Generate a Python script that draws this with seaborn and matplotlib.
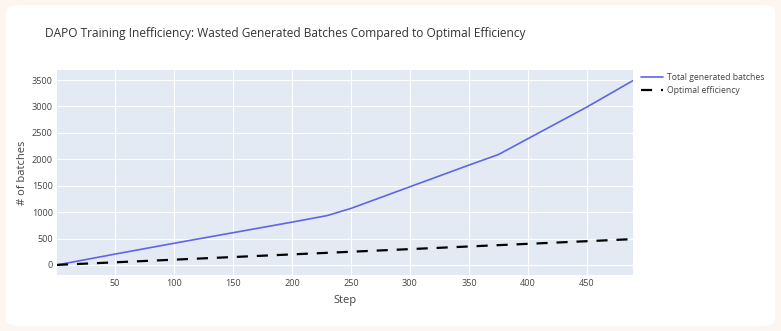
import matplotlib
matplotlib.use("Agg")
import matplotlib.pyplot as plt
import seaborn as sns
import pandas as pd
from matplotlib.patches import FancyBboxPatch

# Data
steps = [1, 50, 100, 150, 200, 230, 250, 300, 350, 375, 400, 450, 489]
total_batches = [0, 205, 410, 610, 810, 935, 1070, 1480, 1890, 2090, 2390, 2990, 3490]
optimal_steps = [1, 489]
optimal_batches = [1, 489]
x_ticks = [50, 100, 150, 200, 250, 300, 350, 400, 450]
y_ticks = [0, 500, 1000, 1500, 2000, 2500, 3000, 3500]

sns.set_theme(style="darkgrid")
plt.rcParams['font.family'] = ['Open Sans', 'DejaVu Sans']

fig = plt.figure(figsize=(7.81, 3.31), dpi=100)
fig.patch.set_facecolor("#fdf6f0")
card = FancyBboxPatch((6 / 781, 5 / 331), 769 / 781, 321 / 331,
                      boxstyle="round,pad=0,rounding_size=0.02",
                      transform=fig.transFigure, facecolor="white",
                      edgecolor="none", zorder=-5)
fig.patches.append(card)

ax = fig.add_axes([57 / 781, 1 - 275 / 331, 576 / 781, 205 / 331])
ax.set_zorder(2)
ax.set_facecolor("#E3EAF3")

df_total = pd.DataFrame({"Step": steps, "batches": total_batches})
df_opt = pd.DataFrame({"Step": optimal_steps, "batches": optimal_batches})

sns.lineplot(data=df_total, x="Step", y="batches", ax=ax, color="#5f66e6",
             linewidth=1.2, label="Total generated batches")
sns.lineplot(data=df_opt, x="Step", y="batches", ax=ax, color="black",
             linewidth=1.6, linestyle=(0, (5, 4)), label="Optimal efficiency")

ax.set_xlim(1, 489)
ax.set_ylim(-190, 3690)
ax.set_xticks(x_ticks)
ax.set_yticks(y_ticks)
ax.grid(True, color="white", linewidth=0.8)
for s in ax.spines.values():
    s.set_visible(False)
ax.tick_params(axis="both", labelsize=6.6, colors="#444444", length=0, pad=3)
ax.set_xlabel("Step", fontsize=8, color="#444444", labelpad=5)
ax.set_ylabel("# of batches", fontsize=8, color="#444444", labelpad=3)

leg = ax.legend(loc="upper left", bbox_to_anchor=(638 / 781, 1 - 70 / 331),
                bbox_transform=fig.transFigure, frameon=False, fontsize=6.2,
                handlelength=2.6, handletextpad=0.45, labelspacing=0.5,
                borderaxespad=0, borderpad=0.3)
for t in leg.get_texts():
    t.set_color("#444444")

fig.text(45 / 781, 1 - 34 / 331, "DAPO Training Inefficiency: Wasted Generated Batches Compared to Optimal Efficiency",
         fontsize=8.6, color="#333333", ha="left", va="center")

fig.savefig("out.png", dpi=100, facecolor=fig.get_facecolor())
